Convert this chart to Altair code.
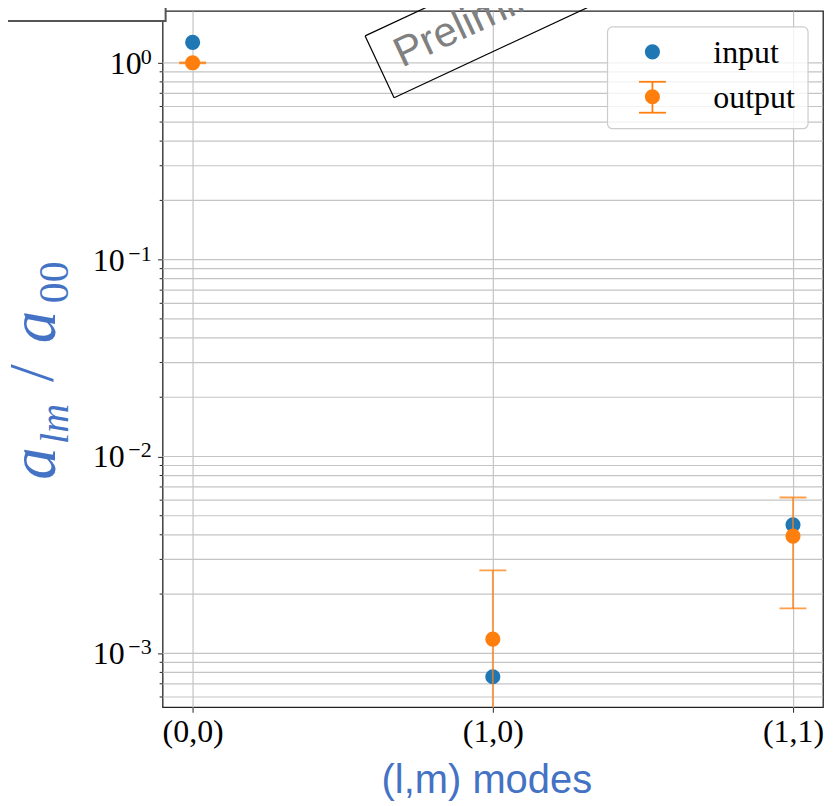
import altair as alt
import numpy as np
import pandas as pd

# ---- data ----
MODES = ["(0,0)", "(1,0)", "(1,1)"]
INPUT = [1.27, 7.6e-4, 4.5e-3]
OUTPUT = [1.0, 1.18e-3, 3.94e-3]
OUTPUT_ERR = [0.006, 1.46e-3, 2.25e-3]
SERIES = ["input", "output"]

MAJOR_TICKS = [1e-3, 1e-2, 1e-1, 1.0]
MAJOR_EXPONENTS = ["−3", "−2", "−1", "0"]
Y_DOMAIN = [5.32e-4, 1.834]
MINOR_TICKS = [m * 10.0 ** e for e in (-4, -3, -2, -1) for m in range(2, 10)
               if Y_DOMAIN[0] < m * 10.0 ** e < Y_DOMAIN[1]]

BLUE = "#1f77b4"
ORANGE = "#ff7f0e"
TITLE_BLUE = "#4472c4"
GRID = "#c4c4c4"

df = pd.DataFrame({"mode": MODES, "input": INPUT, "output": OUTPUT, "err": OUTPUT_ERR})
df["lo"] = np.maximum(df["output"] - df["err"], 1e-6)
df["hi"] = df["output"] + df["err"]

grid_df = pd.DataFrame({"v": MAJOR_TICKS + MINOR_TICKS})
minor_df = pd.DataFrame({"v": MINOR_TICKS})
major_df = pd.DataFrame({"v": MAJOR_TICKS, "exp": MAJOR_EXPONENTS})
ONE = pd.DataFrame({"k": [0]})

yscale = alt.Scale(type="log", domain=Y_DOMAIN, nice=False)
xscale = alt.Scale(type="point", padding=0.1)

x_axis = alt.Axis(title=None, labelAngle=0, labelFont="Liberation Serif",
                  labelFontSize=32, labelColor="black", tickSize=5,
                  tickColor="#222", labelPadding=4, grid=True,
                  gridColor=GRID, gridWidth=1.2, domain=False)
y_axis = alt.Axis(title=None, values=MAJOR_TICKS, labels=False, grid=False,
                  tickSize=5, tickColor="#222", domain=False)


def x_enc():
    return alt.X("mode:N", sort=MODES, scale=xscale, axis=x_axis)


def y_enc(field):
    return alt.Y(field, scale=yscale, axis=y_axis)


gridlines = alt.Chart(grid_df).mark_rule(color=GRID, strokeWidth=1.2).encode(
    y=y_enc("v:Q"))
minor_ticks = alt.Chart(minor_df).mark_rule(color="#222", strokeWidth=1).encode(
    y=y_enc("v:Q"), x=alt.value(-3), x2=alt.value(0))

# y tick labels: "10" with a raised exponent
ten_pos = alt.Chart(major_df).transform_filter("datum.v >= 1").mark_text(
    align="right", baseline="alphabetic", dy=11, font="Liberation Serif",
    fontSize=32, color="black").encode(
    y=y_enc("v:Q"), x=alt.value(-21), text=alt.value("10"))
ten_neg = alt.Chart(major_df).transform_filter("datum.v < 1").mark_text(
    align="right", baseline="alphabetic", dy=11, font="Liberation Serif",
    fontSize=32, color="black").encode(
    y=y_enc("v:Q"), x=alt.value(-38), text=alt.value("10"))
exps = alt.Chart(major_df).mark_text(
    align="right", baseline="alphabetic", dy=1, font="Liberation Serif",
    fontSize=22, color="black").encode(
    y=y_enc("v:Q"), x=alt.value(-11), text="exp:N")

base = alt.Chart(df)
inp = base.mark_point(filled=True, size=230, color=BLUE, opacity=1).encode(
    x=x_enc(), y=y_enc("input:Q"))
err = base.mark_rule(color=ORANGE, opacity=0.75, strokeWidth=1.8, clip=True).encode(
    x=x_enc(), y=y_enc("lo:Q"), y2="hi:Q")
cap_hi = base.mark_tick(orient="horizontal", size=27, thickness=1.8, color=ORANGE,
                        opacity=0.75, clip=True).encode(x=x_enc(), y=y_enc("hi:Q"))
cap_lo = base.mark_tick(orient="horizontal", size=27, thickness=1.8, color=ORANGE,
                        opacity=0.75, clip=True).encode(x=x_enc(), y=y_enc("lo:Q"))
out = base.mark_point(filled=True, size=230, color=ORANGE, opacity=1).encode(
    x=x_enc(), y=y_enc("output:Q"))

one = alt.Chart(ONE)

# "Preliminary" stamp (rotated box outline + text)
ax, ay, bx, by = 203, 25, 232, 87
ux, uy = 0.9063, -0.4226
L = 420
prelim = [
    one.mark_rule(color="black", strokeWidth=1.2).encode(
        x=alt.value(ax), y=alt.value(ay), x2=alt.value(bx), y2=alt.value(by)),
    one.mark_rule(color="black", strokeWidth=1.2).encode(
        x=alt.value(ax), y=alt.value(ay), x2=alt.value(ax + L * ux), y2=alt.value(ay + L * uy)),
    one.mark_rule(color="black", strokeWidth=1.2).encode(
        x=alt.value(bx), y=alt.value(by), x2=alt.value(bx + L * ux), y2=alt.value(by + L * uy)),
    one.mark_text(angle=335, align="left", baseline="alphabetic", font="Liberation Sans",
                  fontSize=42, color="#808080").encode(
        x=alt.value(240), y=alt.value(57), text=alt.value("Preliminary")),
]

# legend
legend = [
    one.mark_rect(cornerRadius=5, fill="white", fillOpacity=0.8, stroke="#cccccc",
                  strokeWidth=1.2).encode(
        x=alt.value(446), x2=alt.value(647), y=alt.value(16), y2=alt.value(118)),
    one.mark_point(filled=True, size=230, color=BLUE, opacity=1).encode(
        x=alt.value(491), y=alt.value(41)),
    one.mark_rule(color=ORANGE, strokeWidth=1.8).encode(
        x=alt.value(491), y=alt.value(71), y2=alt.value(102)),
    one.mark_rule(color=ORANGE, strokeWidth=1.8).encode(
        x=alt.value(477.5), x2=alt.value(504.5), y=alt.value(71)),
    one.mark_rule(color=ORANGE, strokeWidth=1.8).encode(
        x=alt.value(477.5), x2=alt.value(504.5), y=alt.value(102)),
    one.mark_point(filled=True, size=230, color=ORANGE, opacity=1).encode(
        x=alt.value(491), y=alt.value(86)),
    one.mark_text(align="left", baseline="alphabetic", font="Liberation Serif",
                  fontSize=32, color="black").encode(
        x=alt.value(552), y=alt.value(52), text=alt.value(SERIES[0])),
    one.mark_text(align="left", baseline="alphabetic", font="Liberation Serif",
                  fontSize=32, color="black").encode(
        x=alt.value(552), y=alt.value(97), text=alt.value(SERIES[1])),
]


# axis titles
def ytxt(text, x, y, size, italic=True):
    kw = dict(angle=270, align="left", baseline="alphabetic", font="Liberation Serif",
              fontSize=size, color=TITLE_BLUE)
    if italic:
        kw["fontStyle"] = "italic"
    return one.mark_text(**kw).encode(x=alt.value(x), y=alt.value(y), text=alt.value(text))


titles = [
    ytxt("a", -108, 470, 65),
    ytxt("lm", -95, 434, 40),
    ytxt("/", -110, 372, 64, italic=False),
    ytxt("a", -108, 333, 65),
    ytxt("00", -95, 293, 42, italic=False),
    one.mark_text(align="center", baseline="alphabetic", font="Liberation Sans",
                  fontSize=40, color=TITLE_BLUE).encode(
        x=alt.value(325), y=alt.value(784), text=alt.value("(l,m) modes")),
]

# cut-off box in the top-left corner
corner = one.mark_rect(fill="white", stroke="#555555", strokeWidth=2).encode(
    x=alt.value(-175), x2=alt.value(3), y=alt.value(-20), y2=alt.value(10))

chart = alt.layer(
    gridlines, minor_ticks, ten_pos, ten_neg, exps, inp, err, cap_hi, cap_lo, out,
    *prelim, *legend, *titles, corner
).properties(
    width=662, height=698,
    autosize=alt.AutoSizeParams(type="none"),
    padding={"left": 155, "top": 2, "right": 6, "bottom": 94},
).configure_view(stroke="#222222", strokeWidth=1.3)

chart.save("out.html", embed_options={"renderer": "svg", "actions": False})
